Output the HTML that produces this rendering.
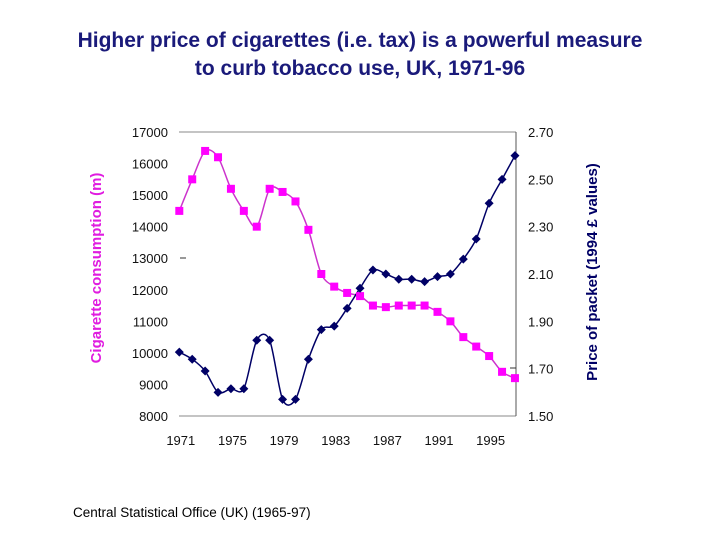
<!DOCTYPE html>
<html><head><meta charset="utf-8"><style>
body{margin:0;background:#fff;}
svg text{font-family:"Liberation Sans",Arial,sans-serif;}
</style></head><body>
<svg width="720" height="540" viewBox="0 0 720 540">
<rect width="720" height="540" fill="#fff"/>
<text x="360" y="47" text-anchor="middle" font-size="21" font-weight="bold" fill="#1a1a7a">Higher price of cigarettes (i.e. tax) is a powerful measure</text>
<text x="360" y="75" text-anchor="middle" font-size="21" font-weight="bold" fill="#1a1a7a">to curb tobacco use, UK, 1971-96</text>
<line x1="179" y1="132" x2="516" y2="132" stroke="#888"/>
<line x1="179" y1="416" x2="516" y2="416" stroke="#888"/>
<line x1="516" y1="132" x2="516" y2="416" stroke="#555"/>
<line x1="180" y1="258" x2="186" y2="258" stroke="#333"/>
<line x1="510" y1="368" x2="516" y2="368" stroke="#333"/>
<g id="axes"></g>
<g id="series"></g>
<text transform="translate(101,268) rotate(-90)" text-anchor="middle" font-size="15" font-weight="bold" fill="#e01ce0">Cigarette consumption (m)</text>
<text transform="translate(597,272) rotate(-90)" text-anchor="middle" font-size="15" font-weight="bold" fill="#000066">Price of packet (1994 £ values)</text>
<text x="73" y="517" font-size="13.5" fill="#000">Central Statistical Office (UK) (1965-97)</text>
</svg>
<script>
const years=[1971,1972,1973,1974,1975,1976,1977,1978,1979,1980,1981,1982,1983,1984,1985,1986,1987,1988,1989,1990,1991,1992,1993,1994,1995,1996,1997];
const consumption=[14500,15500,16400,16200,15200,14500,14000,15200,15100,14800,13900,12500,12100,11900,11800,11500,11450,11500,11500,11500,11300,11000,10500,10200,9900,9400,9200];
const price=[1.77,1.74,1.69,1.60,1.615,1.615,1.82,1.82,1.57,1.57,1.74,1.865,1.88,1.955,2.04,2.117,2.10,2.078,2.078,2.068,2.089,2.10,2.163,2.248,2.399,2.50,2.60];
const leftTicks=[8000,9000,10000,11000,12000,13000,14000,15000,16000,17000];
const rightTicks=[1.50,1.70,1.90,2.10,2.30,2.50,2.70];
const xLabels=[1971,1975,1979,1983,1987,1991,1995];
const NS="http://www.w3.org/2000/svg";
const x0=179.3,dx=12.91;
function xS(yr){return x0+(yr-1971)*dx;}
function yL(v){return 416-(v-8000)/9000*284;}
function yR(v){return 416-(v-1.5)/1.2*284;}
function mk(tag,attrs,parent){const e=document.createElementNS(NS,tag);for(const k in attrs)e.setAttribute(k,attrs[k]);parent.appendChild(e);return e;}
const axes=document.getElementById('axes'),ser=document.getElementById('series');
leftTicks.forEach(v=>{const t=mk('text',{x:168,y:yL(v)+5,'text-anchor':'end','font-size':13,fill:'#111'},axes);t.textContent=v;

});
rightTicks.forEach(v=>{const t=mk('text',{x:528,y:yR(v)+5,'font-size':13,fill:'#111'},axes);t.textContent=v.toFixed(2);

});
xLabels.forEach(v=>{const t=mk('text',{x:xS(v)+1.5,y:445,'text-anchor':'middle','font-size':13,fill:'#111'},axes);t.textContent=v;

});
function smooth(pts){let d='M'+pts[0][0]+','+pts[0][1];for(let i=0;i<pts.length-1;i++){const p0=pts[i-1]||pts[i],p1=pts[i],p2=pts[i+1],p3=pts[i+2]||p2;const t=0.15;
d+=' C'+(p1[0]+(p2[0]-p0[0])*t)+','+(p1[1]+(p2[1]-p0[1])*t)+' '+(p2[0]-(p3[0]-p1[0])*t)+','+(p2[1]-(p3[1]-p1[1])*t)+' '+p2[0]+','+p2[1];}return d;}
const cp=years.map((y,i)=>[xS(y),yL(consumption[i])]);
const pp=years.map((y,i)=>[xS(y),yR(price[i])]);
const l1=mk('path',{d:smooth(cp),fill:'none',stroke:'#cc33cc','stroke-width':1.5},ser);


const l2=mk('path',{d:smooth(pp),fill:'none',stroke:'#000066','stroke-width':1.5},ser);


cp.forEach(p=>{const r=mk('rect',{x:p[0]-4,y:p[1]-4,width:8,height:8,fill:'#ff00ff'},ser);

});
pp.forEach(p=>{const r=mk('polygon',{points:`${p[0]},${p[1]-4.5} ${p[0]+4.5},${p[1]} ${p[0]},${p[1]+4.5} ${p[0]-4.5},${p[1]}`,fill:'#000066'},ser);

});
</script>
</body></html>
